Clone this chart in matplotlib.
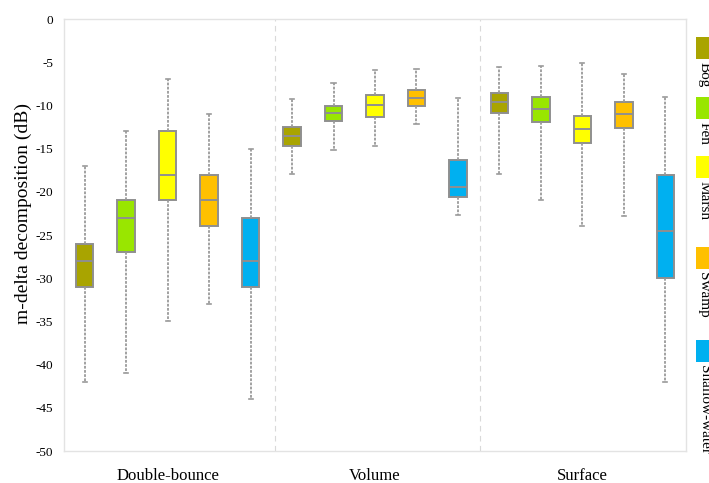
import matplotlib.pyplot as plt
from matplotlib.patches import Rectangle

groups = ["Double-bounce", "Volume", "Surface"]
classes = ["Bog", "Fen", "Marsh", "Swamp", "Shallow-water"]
colors = ["#A9A400", "#99E600", "#FFFF00", "#FFC000", "#00B0F0"]

# per group: one row per class -> (whislo, q1, med, q3, whishi)
double_bounce = [
    (-42, -31, -28, -26, -17),
    (-41, -27, -23, -21, -13),
    (-35, -21, -18, -13, -7),
    (-33, -24, -21, -18, -11),
    (-44, -31, -28, -23, -15),
]
volume = [
    (-17.9, -14.7, -13.5, -12.5, -9.3),
    (-15.2, -11.8, -10.9, -10.1, -7.4),
    (-14.7, -11.3, -10.0, -8.8, -5.9),
    (-12.1, -10.1, -9.1, -8.25, -5.75),
    (-22.7, -20.6, -19.5, -16.3, -9.2),
]
surface = [
    (-17.9, -10.9, -9.6, -8.6, -5.6),
    (-20.9, -11.9, -10.4, -9.0, -5.4),
    (-24.0, -14.4, -12.7, -11.2, -5.1),
    (-22.8, -12.65, -11.0, -9.6, -6.4),
    (-42.0, -30.0, -24.5, -18.0, -9.0),
]
yticks = list(range(0, -55, -5))

plt.rcParams['font.family'] = ['Liberation Serif', 'DejaVu Serif']

fig = plt.figure(figsize=(7.09, 4.83), dpi=100)
ax = fig.add_axes([64 / 709, 32 / 483, 622 / 709, 432 / 483])

edge = "#8f8f8f"
for g, data in enumerate([double_bounce, volume, surface]):
    for i, (lo, q1, med, q3, hi) in enumerate(data):
        stats = [dict(whislo=lo, q1=q1, med=med, q3=q3, whishi=hi, fliers=[])]
        ax.bxp(stats, positions=[g * 5 + i + 0.5], widths=0.42, patch_artist=True,
               showfliers=False,
               boxprops=dict(facecolor=colors[i], edgecolor=edge, linewidth=1.4),
               medianprops=dict(color=edge, linewidth=1.4),
               whiskerprops=dict(color="#9a9a9a", linewidth=1.3, linestyle=(0, (1.5, 0.8))),
               capprops=dict(color="#9a9a9a", linewidth=1.2), capwidths=0.1)

for x in [5.08, 10.03]:
    ax.axvline(x, color="#d9d9d9", linewidth=0.8, linestyle=(0, (5, 4)))

ax.set_xlim(0, 15)
ax.set_ylim(-50, 0)
ax.set_yticks(yticks)
ax.set_yticklabels([str(t) for t in yticks], fontsize=9.5)
ax.set_xticks([2.5, 7.5, 12.5])
ax.set_xticklabels(groups, fontsize=12)
ax.tick_params(axis="both", length=0)
ax.tick_params(axis="y", pad=8)
ax.tick_params(axis="x", pad=12)
for s in ax.spines.values():
    s.set_color("#e3e3e3")
    s.set_linewidth(1.0)
ax.set_ylabel("m-delta decomposition (dB)", fontsize=14)
ax.yaxis.set_label_coords(-0.052, 0.55)

# legend down the right edge, text turned sideways
legend_tops = [37, 97, 156, 247, 340]
for top, name, c in zip(legend_tops, classes, colors):
    fig.add_artist(Rectangle((696 / 709, 1 - (top + 22) / 483), 14 / 709, 22 / 483,
                             transform=fig.transFigure, facecolor=c, edgecolor="none"))
    fig.text(704 / 709, 1 - (top + 25) / 483, name, rotation=270, ha="center", va="top",
             fontsize=11)

fig.savefig("out.png", dpi=100)
